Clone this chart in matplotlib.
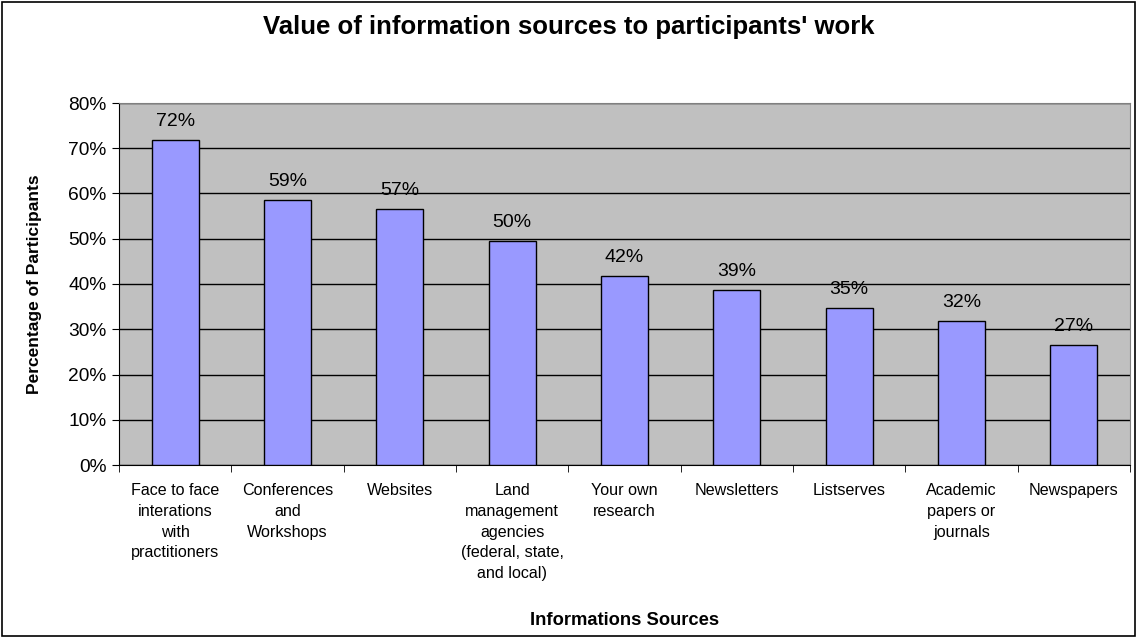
import matplotlib.pyplot as plt
from matplotlib.patches import Rectangle
import matplotlib.ticker as mtick

plt.rcParams['font.family'] = ['Liberation Sans', 'DejaVu Sans']

sources = ['Face to face\ninterations\nwith\npractitioners',
           'Conferences\nand\nWorkshops',
           'Websites',
           'Land\nmanagement\nagencies\n(federal, state,\nand local)',
           'Your own\nresearch',
           'Newsletters',
           'Listserves',
           'Academic\npapers or\njournals',
           'Newspapers']
share = [0.719, 0.586, 0.566, 0.496, 0.418, 0.387, 0.346, 0.318, 0.266]

fig = plt.figure(figsize=(11.37, 6.38), dpi=100)
ax = fig.add_axes([119/1137, 1 - 465/638, (1130 - 119)/1137, (465 - 103)/638])

# outer frame round the whole chart
fig.patches.append(Rectangle((0.002, 0.003), 0.996, 0.994, transform=fig.transFigure,
                             fill=False, edgecolor='black', linewidth=1.2))

x = range(len(sources))
ax.set_facecolor('#C0C0C0')
ax.bar(x, share, width=0.42, color='#9999FF', edgecolor='black', linewidth=1, zorder=3)
for i, v in enumerate(share):
    ax.text(i, v + 0.022, f'{v:.0%}', ha='center', va='bottom', fontsize=14, zorder=4)

ax.set_ylim(0, 0.8)
ax.set_xlim(-0.5, len(sources) - 0.5)
ax.yaxis.set_major_locator(mtick.MultipleLocator(0.1))
ax.yaxis.set_major_formatter(mtick.PercentFormatter(1.0, decimals=0))
ax.grid(axis='y', color='black', linewidth=1, zorder=1)

ax.set_xticks(x)
ax.set_xticklabels(sources, fontsize=11.6, linespacing=1.48)
ax.set_xticks([i + 0.5 for i in range(-1, len(sources))], minor=True)
ax.tick_params(axis='x', which='major', length=0, pad=13)
ax.tick_params(axis='x', which='minor', length=5, direction='out', color='black')
ax.tick_params(axis='y', length=5, direction='out', labelsize=13.8, pad=4)

for side in ['top', 'right']:
    ax.spines[side].set_color('#808080')
ax.spines['left'].set_color('black')
ax.spines['bottom'].set_color('black')

ax.set_ylabel('Percentage of Participants', fontsize=12.5, fontweight='bold')
ax.set_xlabel('Informations Sources', fontsize=13.2, fontweight='bold')
ax.xaxis.set_label_coords(0.5, -0.405)
ax.yaxis.set_label_coords(-0.076, 0.5)
fig.text(0.5, 1 - 27/638, "Value of information sources to participants' work",
         ha='center', va='center', fontsize=18.5, fontweight='bold')

fig.savefig('out.png', dpi=100)
